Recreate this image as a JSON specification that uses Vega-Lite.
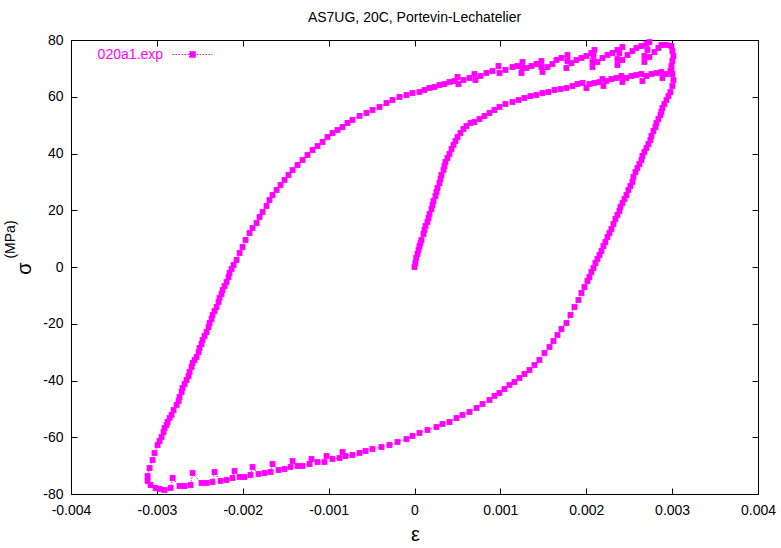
{
  "$schema": "https://vega.github.io/schema/vega-lite/v6.json",
  "width": 687,
  "height": 454,
  "autosize": {"type": "none"},
  "padding": {"left": 71, "top": 40, "right": 23, "bottom": 54},
  "title": {"text": "AS7UG, 20C, Portevin-Lechatelier", "anchor": "middle", "frame": "group", "baseline": "alphabetic", "offset": -3, "fontSize": 14, "font": "Liberation Sans", "fontWeight": "normal", "color": "#000"},
  "config": {
    "view": {"stroke": null},
    "locale": {"number": {"decimal": ".", "thousands": ",", "grouping": [3], "currency": ["$", ""], "minus": "-"}},
    "axis": {"grid": false, "domainColor": "#000", "domainWidth": 1, "tickColor": "#000", "tickWidth": 1, "tickSize": -6, "labelFont": "Liberation Sans", "labelFontSize": 14, "labelColor": "#000", "titleFont": "Liberation Sans", "titleFontWeight": "normal", "titleColor": "#000"}
  },
  "data": {"values": [
    {"i":1,"e":0,"s":0},{"i":2,"e":0.00001,"s":1.41},{"i":3,"e":0.00002,"s":3.17},{"i":4,"e":0.000035,"s":4.58},{"i":5,"e":0.000047,"s":5.99},
    {"i":6,"e":0.000058,"s":7.4},{"i":7,"e":0.00007,"s":8.46},{"i":8,"e":0.000081,"s":9.52},{"i":9,"e":0.000105,"s":11.63},{"i":10,"e":0.000116,"s":13.04},
    {"i":11,"e":0.000128,"s":14.45},{"i":12,"e":0.000151,"s":15.86},{"i":13,"e":0.000163,"s":17.27},{"i":14,"e":0.000175,"s":18.68},{"i":15,"e":0.000198,"s":20.44},
    {"i":16,"e":0.00021,"s":21.85},{"i":17,"e":0.000221,"s":23.26},{"i":18,"e":0.000244,"s":25.02},{"i":19,"e":0.000256,"s":26.43},{"i":20,"e":0.000268,"s":27.84},
    {"i":21,"e":0.000291,"s":29.6},{"i":22,"e":0.000303,"s":31.01},{"i":23,"e":0.000314,"s":32.42},{"i":24,"e":0.000338,"s":34.18},{"i":25,"e":0.000349,"s":35.59},
    {"i":26,"e":0.000361,"s":37},{"i":27,"e":0.000384,"s":38.41},{"i":28,"e":0.000407,"s":39.82},{"i":29,"e":0.000431,"s":41.59},{"i":30,"e":0.000454,"s":43},
    {"i":31,"e":0.000477,"s":44.4},{"i":32,"e":0.000501,"s":45.81},{"i":33,"e":0.000535,"s":47.22},{"i":34,"e":0.00057,"s":48.63},{"i":35,"e":0.000605,"s":49.69},
    {"i":36,"e":0.000652,"s":50.75},{"i":37,"e":0.000698,"s":51.1},{"i":38,"e":0.000757,"s":52.16},{"i":39,"e":0.000815,"s":53.22},{"i":40,"e":0.000873,"s":54.27},
    {"i":41,"e":0.000931,"s":55.33},{"i":42,"e":0.000989,"s":56.39},{"i":43,"e":0.001059,"s":57.44},{"i":44,"e":0.001141,"s":58.15},{"i":45,"e":0.001211,"s":58.85},
    {"i":46,"e":0.00128,"s":59.56},{"i":47,"e":0.00135,"s":60.26},{"i":48,"e":0.00142,"s":60.62},{"i":49,"e":0.00149,"s":61.32},{"i":50,"e":0.00156,"s":61.67},
    {"i":51,"e":0.00163,"s":62.38},{"i":52,"e":0.0017,"s":62.73},{"i":53,"e":0.001769,"s":63.08},{"i":54,"e":0.001839,"s":63.79},{"i":55,"e":0.001897,"s":64.49},
    {"i":56,"e":0.001956,"s":64.85},{"i":57,"e":0.002002,"s":63.08},{"i":58,"e":0.002037,"s":64.49},{"i":59,"e":0.002095,"s":64.85},{"i":60,"e":0.002154,"s":65.2},
    {"i":61,"e":0.002189,"s":66.25},{"i":62,"e":0.0022,"s":63.79},{"i":63,"e":0.002235,"s":65.55},{"i":64,"e":0.002293,"s":66.25},{"i":65,"e":0.002352,"s":66.61},
    {"i":66,"e":0.00241,"s":67.31},{"i":67,"e":0.002421,"s":65.2},{"i":68,"e":0.002468,"s":66.61},{"i":69,"e":0.002526,"s":67.31},{"i":70,"e":0.002584,"s":67.66},
    {"i":71,"e":0.002643,"s":68.02},{"i":72,"e":0.002654,"s":65.55},{"i":73,"e":0.002701,"s":67.31},{"i":74,"e":0.002759,"s":68.02},{"i":75,"e":0.002817,"s":68.37},
    {"i":76,"e":0.002875,"s":68.72},{"i":77,"e":0.002887,"s":66.61},{"i":78,"e":0.002934,"s":68.02},{"i":79,"e":0.00298,"s":69.07},{"i":80,"e":0.003003,"s":68.02},
    {"i":81,"e":0.003015,"s":65.9},{"i":82,"e":0.003003,"s":63.79},{"i":83,"e":0.00298,"s":61.67},{"i":84,"e":0.002957,"s":60.26},{"i":85,"e":0.002934,"s":58.85},
    {"i":86,"e":0.00291,"s":57.44},{"i":87,"e":0.002887,"s":56.03},{"i":88,"e":0.002875,"s":54.63},{"i":89,"e":0.002864,"s":53.57},{"i":90,"e":0.00284,"s":52.16},
    {"i":91,"e":0.002817,"s":50.75},{"i":92,"e":0.002806,"s":49.34},{"i":93,"e":0.002782,"s":47.93},{"i":94,"e":0.002759,"s":46.17},{"i":95,"e":0.002747,"s":44.76},
    {"i":96,"e":0.002724,"s":43.35},{"i":97,"e":0.002701,"s":41.94},{"i":98,"e":0.002677,"s":40.53},{"i":99,"e":0.002654,"s":39.12},{"i":100,"e":0.002643,"s":37.71},
    {"i":101,"e":0.002619,"s":36.3},{"i":102,"e":0.002596,"s":34.89},{"i":103,"e":0.002573,"s":33.48},{"i":104,"e":0.002549,"s":31.72},{"i":105,"e":0.002538,"s":29.96},
    {"i":106,"e":0.002514,"s":28.55},{"i":107,"e":0.002491,"s":27.14},{"i":108,"e":0.002468,"s":25.37},{"i":109,"e":0.002445,"s":23.96},{"i":110,"e":0.002421,"s":22.55},
    {"i":111,"e":0.002398,"s":21.15},{"i":112,"e":0.002386,"s":19.74},{"i":113,"e":0.002363,"s":18.33},{"i":114,"e":0.00234,"s":16.92},{"i":115,"e":0.002317,"s":15.15},
    {"i":116,"e":0.002293,"s":13.39},{"i":117,"e":0.00227,"s":11.98},{"i":118,"e":0.002247,"s":10.57},{"i":119,"e":0.002223,"s":8.81},{"i":120,"e":0.0022,"s":7.4},
    {"i":121,"e":0.002177,"s":5.64},{"i":122,"e":0.002154,"s":4.23},{"i":123,"e":0.00213,"s":2.82},{"i":124,"e":0.002107,"s":1.41},{"i":125,"e":0.002084,"s":-0.35},
    {"i":126,"e":0.00206,"s":-1.76},{"i":127,"e":0.002037,"s":-3.52},{"i":128,"e":0.002014,"s":-4.93},{"i":129,"e":0.001979,"s":-7.05},{"i":130,"e":0.001944,"s":-9.16},
    {"i":131,"e":0.001909,"s":-11.63},{"i":132,"e":0.001863,"s":-14.1},{"i":133,"e":0.001816,"s":-16.92},{"i":134,"e":0.001769,"s":-19.74},{"i":135,"e":0.001711,"s":-21.85},
    {"i":136,"e":0.001665,"s":-23.96},{"i":137,"e":0.001618,"s":-26.08},{"i":138,"e":0.001572,"s":-28.19},{"i":139,"e":0.001513,"s":-30.31},{"i":140,"e":0.001455,"s":-32.77},
    {"i":141,"e":0.001397,"s":-34.54},{"i":142,"e":0.001339,"s":-36.3},{"i":143,"e":0.00128,"s":-37.71},{"i":144,"e":0.001222,"s":-39.12},{"i":145,"e":0.001164,"s":-40.53},
    {"i":146,"e":0.001106,"s":-41.59},{"i":147,"e":0.001048,"s":-43},{"i":148,"e":0.000989,"s":-44.4},{"i":149,"e":0.000931,"s":-45.46},{"i":150,"e":0.000873,"s":-46.87},
    {"i":151,"e":0.000792,"s":-48.28},{"i":152,"e":0.000722,"s":-49.69},{"i":153,"e":0.00064,"s":-51.1},{"i":154,"e":0.000559,"s":-52.16},{"i":155,"e":0.000489,"s":-53.22},
    {"i":156,"e":0.000407,"s":-54.63},{"i":157,"e":0.000326,"s":-55.33},{"i":158,"e":0.000256,"s":-56.39},{"i":159,"e":0.000151,"s":-57.44},{"i":160,"e":0.000058,"s":-58.5},
    {"i":161,"e":-0.000023,"s":-59.56},{"i":162,"e":-0.000093,"s":-60.62},{"i":163,"e":-0.000198,"s":-61.67},{"i":164,"e":-0.000291,"s":-62.73},{"i":165,"e":-0.000384,"s":-63.44},
    {"i":166,"e":-0.000489,"s":-64.14},{"i":167,"e":-0.00057,"s":-64.85},{"i":168,"e":-0.00064,"s":-65.55},{"i":169,"e":-0.000722,"s":-66.25},{"i":170,"e":-0.000803,"s":-66.61},
    {"i":171,"e":-0.000838,"s":-65.2},{"i":172,"e":-0.000873,"s":-67.31},{"i":173,"e":-0.000955,"s":-67.66},{"i":174,"e":-0.001024,"s":-66.61},{"i":175,"e":-0.001048,"s":-68.72},
    {"i":176,"e":-0.001129,"s":-68.72},{"i":177,"e":-0.001199,"s":-67.66},{"i":178,"e":-0.001222,"s":-69.43},{"i":179,"e":-0.001304,"s":-70.13},{"i":180,"e":-0.001362,"s":-70.13},
    {"i":181,"e":-0.00142,"s":-68.37},{"i":182,"e":-0.001443,"s":-70.48},{"i":183,"e":-0.001513,"s":-71.19},{"i":184,"e":-0.001583,"s":-71.54},{"i":185,"e":-0.001653,"s":-69.43},
    {"i":186,"e":-0.001676,"s":-72.25},{"i":187,"e":-0.001746,"s":-72.6},{"i":188,"e":-0.001816,"s":-72.95},{"i":189,"e":-0.001886,"s":-70.48},{"i":190,"e":-0.001909,"s":-73.3},
    {"i":191,"e":-0.001979,"s":-74.01},{"i":192,"e":-0.002037,"s":-74.01},{"i":193,"e":-0.002095,"s":-71.89},{"i":194,"e":-0.002119,"s":-74.36},{"i":195,"e":-0.002189,"s":-75.07},
    {"i":196,"e":-0.002258,"s":-75.42},{"i":197,"e":-0.002328,"s":-72.25},{"i":198,"e":-0.002352,"s":-75.77},{"i":199,"e":-0.002421,"s":-76.12},{"i":200,"e":-0.00248,"s":-76.12},
    {"i":201,"e":-0.002584,"s":-72.6},{"i":202,"e":-0.002608,"s":-76.83},{"i":203,"e":-0.002677,"s":-77.18},{"i":204,"e":-0.002736,"s":-77.18},{"i":205,"e":-0.002817,"s":-74.36},
    {"i":206,"e":-0.00284,"s":-77.88},{"i":207,"e":-0.00291,"s":-78.59},{"i":208,"e":-0.002968,"s":-78.24},{"i":209,"e":-0.003015,"s":-77.88},{"i":210,"e":-0.003073,"s":-76.83},
    {"i":211,"e":-0.003108,"s":-75.42},{"i":212,"e":-0.003108,"s":-73.66},{"i":213,"e":-0.003085,"s":-70.84},{"i":214,"e":-0.00305,"s":-68.02},{"i":215,"e":-0.003027,"s":-65.55},
    {"i":216,"e":-0.002992,"s":-62.73},{"i":217,"e":-0.002968,"s":-61.32},{"i":218,"e":-0.002945,"s":-59.91},{"i":219,"e":-0.002922,"s":-58.15},{"i":220,"e":-0.00291,"s":-56.74},
    {"i":221,"e":-0.002887,"s":-55.68},{"i":222,"e":-0.002875,"s":-54.63},{"i":223,"e":-0.002852,"s":-53.22},{"i":224,"e":-0.002829,"s":-52.16},{"i":225,"e":-0.002805,"s":-50.4},
    {"i":226,"e":-0.002771,"s":-48.63},{"i":227,"e":-0.002747,"s":-47.22},{"i":228,"e":-0.002736,"s":-45.81},{"i":229,"e":-0.002712,"s":-44.05},{"i":230,"e":-0.002701,"s":-42.64},
    {"i":231,"e":-0.002677,"s":-41.23},{"i":232,"e":-0.002654,"s":-39.82},{"i":233,"e":-0.002631,"s":-38.41},{"i":234,"e":-0.002619,"s":-37},{"i":235,"e":-0.002596,"s":-35.24},
    {"i":236,"e":-0.002584,"s":-33.83},{"i":237,"e":-0.002561,"s":-32.77},{"i":238,"e":-0.002538,"s":-31.72},{"i":239,"e":-0.002514,"s":-29.96},{"i":240,"e":-0.002503,"s":-28.55},
    {"i":241,"e":-0.00248,"s":-27.14},{"i":242,"e":-0.002468,"s":-25.73},{"i":243,"e":-0.002445,"s":-24.32},{"i":244,"e":-0.002421,"s":-22.91},{"i":245,"e":-0.002398,"s":-21.15},
    {"i":246,"e":-0.002386,"s":-19.74},{"i":247,"e":-0.002363,"s":-18.33},{"i":248,"e":-0.002352,"s":-16.92},{"i":249,"e":-0.002328,"s":-15.51},{"i":250,"e":-0.002305,"s":-14.1},
    {"i":251,"e":-0.002282,"s":-12.33},{"i":252,"e":-0.00227,"s":-10.93},{"i":253,"e":-0.002247,"s":-9.52},{"i":254,"e":-0.002235,"s":-8.11},{"i":255,"e":-0.002212,"s":-6.7},
    {"i":256,"e":-0.002189,"s":-5.29},{"i":257,"e":-0.002165,"s":-3.52},{"i":258,"e":-0.002154,"s":-2.11},{"i":259,"e":-0.00213,"s":-0.7},{"i":260,"e":-0.002107,"s":0.7},
    {"i":261,"e":-0.002072,"s":2.47},{"i":262,"e":-0.002037,"s":4.93},{"i":263,"e":-0.002002,"s":7.05},{"i":264,"e":-0.001967,"s":9.52},{"i":265,"e":-0.001921,"s":11.98},
    {"i":266,"e":-0.001886,"s":13.74},{"i":267,"e":-0.001839,"s":15.51},{"i":268,"e":-0.001804,"s":17.62},{"i":269,"e":-0.001769,"s":19.38},{"i":270,"e":-0.001723,"s":21.5},
    {"i":271,"e":-0.001688,"s":23.61},{"i":272,"e":-0.001653,"s":25.37},{"i":273,"e":-0.001606,"s":27.14},{"i":274,"e":-0.00156,"s":28.9},{"i":275,"e":-0.001513,"s":30.66},
    {"i":276,"e":-0.001467,"s":32.42},{"i":277,"e":-0.00142,"s":34.18},{"i":278,"e":-0.001362,"s":35.95},{"i":279,"e":-0.001304,"s":37.71},{"i":280,"e":-0.001246,"s":39.47},
    {"i":281,"e":-0.001187,"s":41.23},{"i":282,"e":-0.001129,"s":42.64},{"i":283,"e":-0.001071,"s":44.05},{"i":284,"e":-0.001013,"s":45.81},{"i":285,"e":-0.000955,"s":47.22},
    {"i":286,"e":-0.000896,"s":48.28},{"i":287,"e":-0.000838,"s":49.34},{"i":288,"e":-0.00078,"s":50.75},{"i":289,"e":-0.000722,"s":51.81},{"i":290,"e":-0.00064,"s":53.22},
    {"i":291,"e":-0.000559,"s":54.27},{"i":292,"e":-0.000489,"s":55.33},{"i":293,"e":-0.000407,"s":56.39},{"i":294,"e":-0.000326,"s":57.8},{"i":295,"e":-0.000256,"s":58.85},
    {"i":296,"e":-0.000175,"s":59.91},{"i":297,"e":-0.000093,"s":60.62},{"i":298,"e":-0.000023,"s":61.32},{"i":299,"e":0.000058,"s":61.67},{"i":300,"e":0.000116,"s":62.38},
    {"i":301,"e":0.000175,"s":63.08},{"i":302,"e":0.000233,"s":63.44},{"i":303,"e":0.000291,"s":64.14},{"i":304,"e":0.000349,"s":64.49},{"i":305,"e":0.000407,"s":65.2},
    {"i":306,"e":0.000466,"s":65.55},{"i":307,"e":0.000501,"s":66.96},{"i":308,"e":0.000512,"s":64.49},{"i":309,"e":0.00057,"s":65.9},{"i":310,"e":0.00064,"s":66.61},
    {"i":311,"e":0.000698,"s":68.02},{"i":312,"e":0.00071,"s":65.9},{"i":313,"e":0.000768,"s":67.31},{"i":314,"e":0.000838,"s":68.37},{"i":315,"e":0.000908,"s":69.07},
    {"i":316,"e":0.000978,"s":70.84},{"i":317,"e":0.000989,"s":68.37},{"i":318,"e":0.001059,"s":69.43},{"i":319,"e":0.001141,"s":70.48},{"i":320,"e":0.001199,"s":70.84},
    {"i":321,"e":0.001257,"s":72.25},{"i":322,"e":0.001257,"s":70.13},{"i":323,"e":0.001246,"s":68.37},{"i":324,"e":0.001304,"s":70.13},{"i":325,"e":0.001362,"s":70.84},
    {"i":326,"e":0.00142,"s":71.54},{"i":327,"e":0.001478,"s":72.6},{"i":328,"e":0.001478,"s":70.48},{"i":329,"e":0.00149,"s":68.72},{"i":330,"e":0.001548,"s":70.48},
    {"i":331,"e":0.001606,"s":71.54},{"i":332,"e":0.001653,"s":72.95},{"i":333,"e":0.001711,"s":73.66},{"i":334,"e":0.001781,"s":74.71},{"i":335,"e":0.001781,"s":72.6},
    {"i":336,"e":0.001769,"s":70.13},{"i":337,"e":0.001828,"s":71.89},{"i":338,"e":0.001886,"s":72.95},{"i":339,"e":0.001944,"s":73.66},{"i":340,"e":0.002002,"s":74.36},
    {"i":341,"e":0.00206,"s":75.42},{"i":342,"e":0.002095,"s":76.48},{"i":343,"e":0.002084,"s":74.36},{"i":344,"e":0.002072,"s":72.25},{"i":345,"e":0.002072,"s":70.48},
    {"i":346,"e":0.00213,"s":72.25},{"i":347,"e":0.002189,"s":73.66},{"i":348,"e":0.002247,"s":74.71},{"i":349,"e":0.002305,"s":75.42},{"i":350,"e":0.002363,"s":76.48},
    {"i":351,"e":0.002421,"s":77.53},{"i":352,"e":0.002386,"s":75.42},{"i":353,"e":0.002363,"s":73.3},{"i":354,"e":0.002363,"s":71.19},{"i":355,"e":0.002421,"s":72.95},
    {"i":356,"e":0.00248,"s":74.71},{"i":357,"e":0.002538,"s":76.12},{"i":358,"e":0.002584,"s":77.18},{"i":359,"e":0.002643,"s":77.88},{"i":360,"e":0.002701,"s":78.59},
    {"i":361,"e":0.002736,"s":79.29},{"i":362,"e":0.002712,"s":76.48},{"i":363,"e":0.002677,"s":74.36},{"i":364,"e":0.002677,"s":72.25},{"i":365,"e":0.002736,"s":74.01},
    {"i":366,"e":0.002794,"s":75.77},{"i":367,"e":0.00284,"s":77.18},{"i":368,"e":0.002875,"s":78.24},{"i":369,"e":0.002934,"s":78.24},{"i":370,"e":0.002992,"s":77.88},
    {"i":371,"e":0.003003,"s":76.12},{"i":372,"e":0.003015,"s":74.36},{"i":373,"e":0.003003,"s":72.6},{"i":374,"e":0.002992,"s":70.84},{"i":375,"e":0.002992,"s":69.07}
  ]},
  "layer": [
    {
      "mark": {"type": "line", "color": "#ff00ff", "strokeWidth": 1, "strokeDash": [1.5, 1.5]},
      "encoding": {
        "x": {"field": "e", "type": "quantitative", "scale": {"domain": [-0.004, 0.004], "nice": false, "zero": false},
              "axis": {"orient": "bottom", "values": [-0.004, -0.003, -0.002, -0.001, 0, 0.001, 0.002, 0.003, 0.004], "format": "~g", "labelPadding": 15, "labelFlush": false, "labelOverlap": false,
                       "title": "ε", "titleFontSize": 20, "titleX": 344, "titleY": 46, "titleAlign": "center", "titleBaseline": "alphabetic"}},
        "y": {"field": "s", "type": "quantitative", "scale": {"domain": [-80, 80], "nice": false, "zero": false},
              "axis": {"orient": "left", "values": [-80, -60, -40, -20, 0, 20, 40, 60, 80], "labelPadding": 14, "labelFlush": false, "labelOverlap": false,
                       "title": "σ", "titleFontSize": 20, "titleAngle": 270, "titleX": -41, "titleY": 228, "titleAlign": "center", "titleBaseline": "alphabetic"}},
        "order": {"field": "i", "type": "quantitative"}
      }
    },
    {
      "mark": {"type": "point", "shape": "square", "filled": true, "size": 34, "opacity": 1},
      "encoding": {
        "x": {"field": "e", "type": "quantitative", "scale": {"domain": [-0.004, 0.004], "nice": false, "zero": false},
              "axis": {"orient": "top", "values": [-0.004, -0.003, -0.002, -0.001, 0, 0.001, 0.002, 0.003, 0.004], "labels": false, "title": null}},
        "y": {"field": "s", "type": "quantitative", "scale": {"domain": [-80, 80], "nice": false, "zero": false},
              "axis": {"orient": "right", "values": [-80, -60, -40, -20, 0, 20, 40, 60, 80], "labels": false,
                       "title": "(MPa)", "titleFontSize": 14, "titleAngle": 270, "titleX": -744, "titleY": 199, "titleAlign": "center", "titleBaseline": "alphabetic"}},
        "color": {"datum": "020a1.exp", "type": "nominal", "scale": {"range": ["#ff00ff"]},
                  "legend": {"orient": "none", "legendX": 101, "legendY": -6, "title": null, "padding": 0,
                             "symbolType": "M-1,0H1M-0.15,-0.15H0.15V0.15H-0.15Z", "symbolSize": 1600,
                             "symbolStrokeColor": "#ff00ff", "symbolFillColor": "#ff00ff", "symbolStrokeWidth": 1, "symbolDash": [1.5, 1.5], "symbolOpacity": 1,
                             "labelColor": "#ff00ff", "labelFont": "Liberation Sans", "labelFontSize": 14, "labelAlign": "right", "labelOffset": -50}}
      }
    }
  ],
  "resolve": {"axis": {"x": "independent", "y": "independent"}}
}
